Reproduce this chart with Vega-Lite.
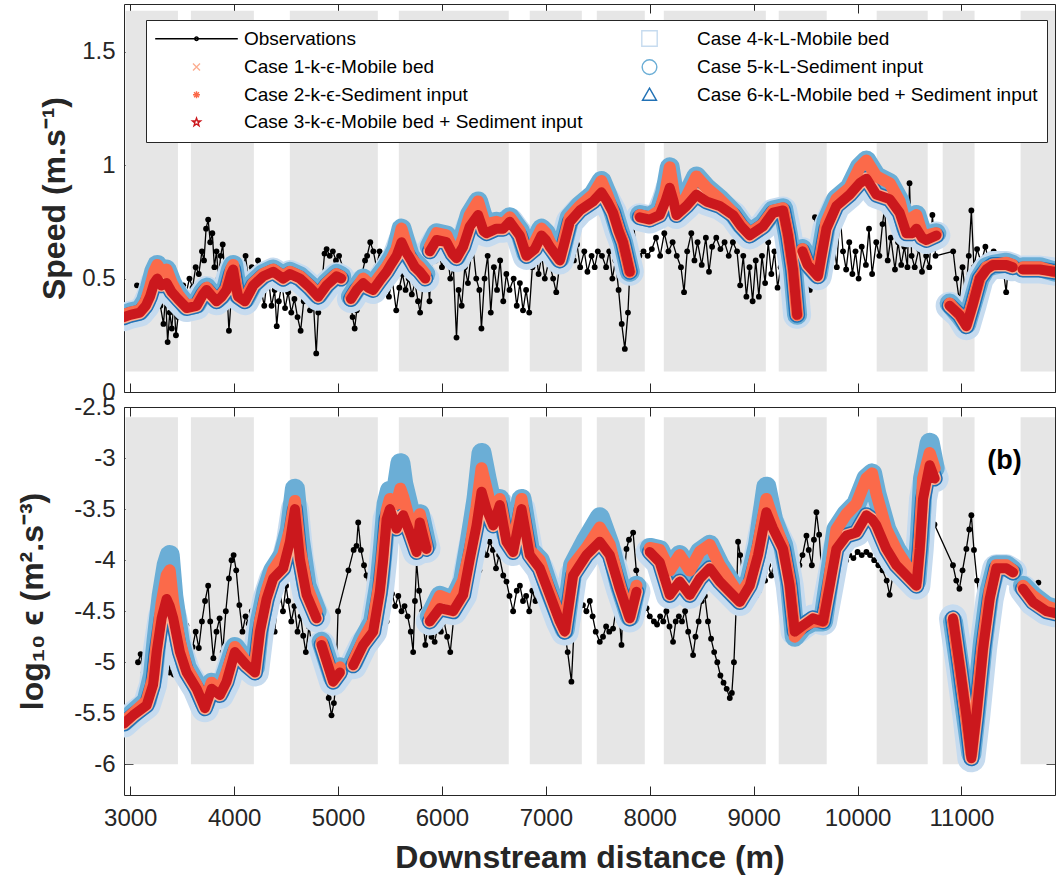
{
"$schema":"https://vega.github.io/schema/vega-lite/v6.json",
"background":"white",
"padding":{"left":16,"top":3,"right":5,"bottom":5},
"bounds":"flush",
"spacing":15,
"config":{
 "view":{"stroke":"#262626","strokeWidth":1},
 "axis":{"grid":false,"domain":false,"labelFont":"Liberation Sans","labelFontSize":24,"labelColor":"#262626","tickColor":"#262626","tickSize":-9,"tickWidth":1,"labelPadding":18,"titleFont":"Liberation Sans","titleFontSize":32,"titleFontWeight":"bold","titleColor":"#262626"}
},
"datasets":{
"speed":[
{"x0":2955,"x1":3459,"y0":0.09,"y1":1.68},{"x0":3584,"x1":4190,"y0":0.09,"y1":1.68},{"x0":4536,"x1":5383,"y0":0.09,"y1":1.68},{"x0":5585,"x1":6643,"y0":0.09,"y1":1.68},{"x0":6845,"x1":7346,"y0":0.09,"y1":1.68},{"x0":7490,"x1":7952,"y0":0.09,"y1":1.68},{"x0":8135,"x1":9117,"y0":0.09,"y1":1.68},{"x0":9241,"x1":9703,"y0":0.09,"y1":1.68},{"x0":10184,"x1":10675,"y0":0.09,"y1":1.68},{"x0":10819,"x1":11126,"y0":0.09,"y1":1.68},{"x0":11569,"x1":11900,"y0":0.09,"y1":1.68},
{"x":3065,"o":0.47},{"x":3120,"o":0.43},{"x":3200,"o":0.42},{"x":3230,"o":0.36},{"x":3260,"o":0.45},{"x":3290,"o":0.38},{"x":3320,"o":0.30},{"x":3340,"o":0.42},{"x":3360,"o":0.22},{"x":3380,"o":0.35},{"x":3400,"o":0.28},{"x":3420,"o":0.40},{"x":3440,"o":0.25},{"x":3460,"o":0.33},{"x":3480,"o":0.43},{"x":3510,"o":0.47},{"x":3540,"o":0.44},{"x":3570,"o":0.50},{"x":3600,"o":0.46},{"x":3630,"o":0.55},{"x":3660,"o":0.52},{"x":3690,"o":0.62},{"x":3710,"o":0.58},{"x":3730,"o":0.72},{"x":3750,"o":0.76},{"x":3770,"o":0.66},{"x":3790,"o":0.70},{"x":3810,"o":0.55},{"x":3830,"o":0.62},{"x":3850,"o":0.50},{"x":3870,"o":0.60},{"x":3890,"o":0.65},{"x":3910,"o":0.52},{"x":3930,"o":0.45},{"x":3950,"o":0.27},{"x":3970,"o":0.40},{"x":3990,"o":0.50},{"x":4010,"o":0.46},{"x":4040,"o":0.55},{"x":4070,"o":0.50},{"x":4110,"o":0.60},{"x":4140,"o":0.48},{"x":4170,"o":0.55},{"x":4200,"o":0.50},{"x":4230,"o":0.58},{"x":4260,"o":0.45},{"x":4290,"o":0.38},{"x":4310,"o":0.47},{"x":4330,"o":0.50},{"x":4360,"o":0.38},{"x":4390,"o":0.45},{"x":4410,"o":0.29},{"x":4430,"o":0.40},{"x":4460,"o":0.48},{"x":4490,"o":0.37},{"x":4520,"o":0.44},{"x":4550,"o":0.35},{"x":4580,"o":0.41},{"x":4610,"o":0.33},{"x":4640,"o":0.27},{"x":4670,"o":0.40},{"x":4700,"o":0.45},{"x":4730,"o":0.36},{"x":4760,"o":0.42},{"x":4790,"o":0.17},{"x":4810,"o":0.35},{"x":4840,"o":0.45},{"x":4870,"o":0.61},{"x":4890,"o":0.63},{"x":4920,"o":0.60},{"x":4950,"o":0.62},{"x":4980,"o":0.58},{"x":5010,"o":0.60},{"x":5080,"o":0.50},{"x":5120,"o":0.40},{"x":5140,"o":0.33},{"x":5160,"o":0.28},{"x":5180,"o":0.36},{"x":5200,"o":0.45},{"x":5230,"o":0.52},{"x":5260,"o":0.58},{"x":5280,"o":0.60},{"x":5310,"o":0.66},{"x":5340,"o":0.62},{"x":5370,"o":0.55},{"x":5400,"o":0.62},{"x":5430,"o":0.50},{"x":5460,"o":0.58},{"x":5490,"o":0.42},{"x":5520,"o":0.50},{"x":5560,"o":0.36},{"x":5590,"o":0.46},{"x":5620,"o":0.52},{"x":5650,"o":0.45},{"x":5680,"o":0.50},{"x":5710,"o":0.43},{"x":5740,"o":0.48},{"x":5770,"o":0.40},{"x":5790,"o":0.35},{"x":5820,"o":0.48},{"x":5850,"o":0.60},{"x":5880,"o":0.40},{"x":5910,"o":0.63},{"x":5940,"o":0.58},{"x":5970,"o":0.62},{"x":6000,"o":0.55},{"x":6030,"o":0.63},{"x":6060,"o":0.58},{"x":6080,"o":0.50},{"x":6110,"o":0.55},{"x":6140,"o":0.24},{"x":6160,"o":0.45},{"x":6190,"o":0.38},{"x":6220,"o":0.55},{"x":6250,"o":0.48},{"x":6280,"o":0.60},{"x":6300,"o":0.63},{"x":6330,"o":0.50},{"x":6360,"o":0.45},{"x":6380,"o":0.28},{"x":6410,"o":0.50},{"x":6440,"o":0.60},{"x":6470,"o":0.35},{"x":6500,"o":0.55},{"x":6530,"o":0.45},{"x":6560,"o":0.58},{"x":6590,"o":0.40},{"x":6620,"o":0.52},{"x":6650,"o":0.45},{"x":6690,"o":0.50},{"x":6720,"o":0.38},{"x":6750,"o":0.48},{"x":6780,"o":0.36},{"x":6810,"o":0.45},{"x":6840,"o":0.35},{"x":6870,"o":0.55},{"x":6900,"o":0.64},{"x":6930,"o":0.52},{"x":6960,"o":0.60},{"x":6990,"o":0.50},{"x":7030,"o":0.58},{"x":7070,"o":0.50},{"x":7100,"o":0.44},{"x":7130,"o":0.55},{"x":7170,"o":0.65},{"x":7200,"o":0.55},{"x":7240,"o":0.68},{"x":7270,"o":0.58},{"x":7300,"o":0.65},{"x":7330,"o":0.55},{"x":7370,"o":0.62},{"x":7400,"o":0.53},{"x":7440,"o":0.60},{"x":7470,"o":0.55},{"x":7500,"o":0.62},{"x":7540,"o":0.60},{"x":7580,"o":0.55},{"x":7610,"o":0.62},{"x":7640,"o":0.50},{"x":7670,"o":0.58},{"x":7700,"o":0.45},{"x":7730,"o":0.30},{"x":7760,"o":0.19},{"x":7790,"o":0.35},{"x":7810,"o":0.55},{"x":7840,"o":0.76},{"x":7870,"o":0.62},{"x":7900,"o":0.60},{"x":7940,"o":0.62},{"x":7980,"o":0.60},{"x":8020,"o":0.63},{"x":8060,"o":0.68},{"x":8100,"o":0.60},{"x":8140,"o":0.70},{"x":8180,"o":0.62},{"x":8220,"o":0.66},{"x":8260,"o":0.60},{"x":8300,"o":0.55},{"x":8330,"o":0.44},{"x":8360,"o":0.62},{"x":8400,"o":0.70},{"x":8430,"o":0.58},{"x":8460,"o":0.66},{"x":8500,"o":0.56},{"x":8540,"o":0.68},{"x":8570,"o":0.53},{"x":8600,"o":0.64},{"x":8640,"o":0.68},{"x":8680,"o":0.63},{"x":8720,"o":0.66},{"x":8760,"o":0.60},{"x":8800,"o":0.66},{"x":8840,"o":0.62},{"x":8870,"o":0.47},{"x":8900,"o":0.60},{"x":8930,"o":0.42},{"x":8960,"o":0.55},{"x":8990,"o":0.40},{"x":9020,"o":0.58},{"x":9050,"o":0.42},{"x":9080,"o":0.60},{"x":9110,"o":0.48},{"x":9140,"o":0.66},{"x":9170,"o":0.52},{"x":9200,"o":0.62},{"x":9230,"o":0.46},{"x":9260,"o":0.55},{"x":9300,"o":0.58},{"x":9340,"o":0.50},{"x":9380,"o":0.55},{"x":9420,"o":0.52},{"x":9450,"o":0.62},{"x":9480,"o":0.55},{"x":9510,"o":0.48},{"x":9540,"o":0.45},{"x":9570,"o":0.60},{"x":9590,"o":0.77},{"x":9610,"o":0.50},{"x":9640,"o":0.70},{"x":9670,"o":0.62},{"x":9700,"o":0.68},{"x":9730,"o":0.60},{"x":9760,"o":0.70},{"x":9800,"o":0.55},{"x":9830,"o":0.79},{"x":9860,"o":0.62},{"x":9890,"o":0.54},{"x":9920,"o":0.66},{"x":9950,"o":0.52},{"x":9980,"o":0.62},{"x":10010,"o":0.50},{"x":10040,"o":0.64},{"x":10080,"o":0.56},{"x":10110,"o":0.72},{"x":10140,"o":0.52},{"x":10180,"o":0.66},{"x":10210,"o":0.60},{"x":10240,"o":0.74},{"x":10260,"o":0.81},{"x":10290,"o":0.58},{"x":10320,"o":0.68},{"x":10360,"o":0.54},{"x":10390,"o":0.66},{"x":10420,"o":0.56},{"x":10450,"o":0.64},{"x":10480,"o":0.55},{"x":10500,"o":0.92},{"x":10520,"o":0.60},{"x":10550,"o":0.55},{"x":10590,"o":0.63},{"x":10620,"o":0.53},{"x":10660,"o":0.60},{"x":10690,"o":0.55},{"x":10720,"o":0.78},{"x":10750,"o":0.60},{"x":10920,"o":0.62},{"x":10950,"o":0.50},{"x":10980,"o":0.40},{"x":11010,"o":0.55},{"x":11040,"o":0.42},{"x":11070,"o":0.60},{"x":11095,"o":0.80},{"x":11120,"o":0.55},{"x":11150,"o":0.63},{"x":11190,"o":0.57},{"x":11230,"o":0.64},{"x":11270,"o":0.56},{"x":11310,"o":0.62},{"x":11350,"o":0.55},{"x":11390,"o":0.58},{"x":11430,"o":0.44},{"x":11450,"o":0.55},
{"x":2940,"g":1,"c1":0.33,"c2":0.34,"c3":0.33,"c4":0.33,"c5":0.34,"c6":0.33},
{"x":3000,"g":1,"c1":0.34,"c2":0.35,"c3":0.34,"c4":0.34,"c5":0.35,"c6":0.34},
{"x":3094,"g":1,"c1":0.35,"c2":0.36,"c3":0.35,"c4":0.35,"c5":0.36,"c6":0.35},
{"x":3150,"g":1,"c1":0.38,"c2":0.40,"c3":0.38,"c4":0.38,"c5":0.40,"c6":0.38},
{"x":3190,"g":1,"c1":0.42,"c2":0.46,"c3":0.42,"c4":0.42,"c5":0.46,"c6":0.42},
{"x":3230,"g":1,"c1":0.48,"c2":0.53,"c3":0.48,"c4":0.48,"c5":0.53,"c6":0.48},
{"x":3260,"g":1,"c1":0.50,"c2":0.56,"c3":0.50,"c4":0.50,"c5":0.56,"c6":0.50},
{"x":3300,"g":1,"c1":0.47,"c2":0.53,"c3":0.47,"c4":0.47,"c5":0.53,"c6":0.47},
{"x":3350,"g":1,"c1":0.48,"c2":0.54,"c3":0.48,"c4":0.48,"c5":0.54,"c6":0.48},
{"x":3400,"g":1,"c1":0.44,"c2":0.48,"c3":0.44,"c4":0.44,"c5":0.48,"c6":0.44},
{"x":3459,"g":1,"c1":0.41,"c2":0.43,"c3":0.41,"c4":0.41,"c5":0.43,"c6":0.41},
{"x":3543,"g":1,"c1":0.37,"c2":0.38,"c3":0.37,"c4":0.37,"c5":0.38,"c6":0.37},
{"x":3639,"g":1,"c1":0.38,"c2":0.39,"c3":0.38,"c4":0.38,"c5":0.39,"c6":0.38},
{"x":3700,"g":1,"c1":0.43,"c2":0.44,"c3":0.43,"c4":0.43,"c5":0.44,"c6":0.43},
{"x":3735,"g":1,"c1":0.45,"c2":0.46,"c3":0.45,"c4":0.45,"c5":0.46,"c6":0.45},
{"x":3790,"g":1,"c1":0.42,"c2":0.43,"c3":0.42,"c4":0.42,"c5":0.43,"c6":0.42},
{"x":3831,"g":1,"c1":0.40,"c2":0.41,"c3":0.40,"c4":0.40,"c5":0.41,"c6":0.40},
{"x":3880,"g":1,"c1":0.42,"c2":0.43,"c3":0.42,"c4":0.42,"c5":0.43,"c6":0.42},
{"x":3927,"g":1,"c1":0.45,"c2":0.46,"c3":0.45,"c4":0.45,"c5":0.46,"c6":0.45},
{"x":3970,"g":1,"c1":0.52,"c2":0.54,"c3":0.52,"c4":0.52,"c5":0.54,"c6":0.52},
{"x":3991,"g":1,"c1":0.54,"c2":0.56,"c3":0.54,"c4":0.54,"c5":0.56,"c6":0.54},
{"x":4020,"g":1,"c1":0.46,"c2":0.47,"c3":0.46,"c4":0.46,"c5":0.47,"c6":0.46},
{"x":4039,"g":1,"c1":0.42,"c2":0.43,"c3":0.42,"c4":0.42,"c5":0.43,"c6":0.42},
{"x":4104,"g":1,"c1":0.40,"c2":0.41,"c3":0.40,"c4":0.40,"c5":0.41,"c6":0.40},
{"x":4184,"g":1,"c1":0.47,"c2":0.48,"c3":0.47,"c4":0.47,"c5":0.48,"c6":0.47},
{"x":4280,"g":1,"c1":0.51,"c2":0.52,"c3":0.51,"c4":0.51,"c5":0.52,"c6":0.51},
{"x":4376,"g":1,"c1":0.53,"c2":0.54,"c3":0.53,"c4":0.53,"c5":0.54,"c6":0.53},
{"x":4472,"g":1,"c1":0.50,"c2":0.51,"c3":0.50,"c4":0.50,"c5":0.51,"c6":0.50},
{"x":4537,"g":1,"c1":0.52,"c2":0.53,"c3":0.52,"c4":0.52,"c5":0.53,"c6":0.52},
{"x":4633,"g":1,"c1":0.50,"c2":0.51,"c3":0.50,"c4":0.50,"c5":0.51,"c6":0.50},
{"x":4729,"g":1,"c1":0.46,"c2":0.47,"c3":0.46,"c4":0.46,"c5":0.47,"c6":0.46},
{"x":4809,"g":1,"c1":0.42,"c2":0.43,"c3":0.42,"c4":0.42,"c5":0.43,"c6":0.42},
{"x":4889,"g":1,"c1":0.47,"c2":0.48,"c3":0.47,"c4":0.47,"c5":0.48,"c6":0.47},
{"x":4986,"g":1,"c1":0.51,"c2":0.52,"c3":0.51,"c4":0.51,"c5":0.52,"c6":0.51},
{"x":5030,"g":1,"c1":0.50,"c2":0.51,"c3":0.50,"c4":0.50,"c5":0.51,"c6":0.50},
{"x":5124,"g":2,"c1":0.41,"c2":0.42,"c3":0.41,"c4":0.41,"c5":0.42,"c6":0.41},
{"x":5180,"g":2,"c1":0.45,"c2":0.46,"c3":0.45,"c4":0.45,"c5":0.46,"c6":0.45},
{"x":5242,"g":2,"c1":0.48,"c2":0.50,"c3":0.48,"c4":0.48,"c5":0.50,"c6":0.48},
{"x":5290,"g":2,"c1":0.46,"c2":0.48,"c3":0.46,"c4":0.46,"c5":0.48,"c6":0.46},
{"x":5338,"g":2,"c1":0.45,"c2":0.47,"c3":0.45,"c4":0.45,"c5":0.47,"c6":0.45},
{"x":5400,"g":2,"c1":0.49,"c2":0.51,"c3":0.49,"c4":0.49,"c5":0.51,"c6":0.49},
{"x":5467,"g":2,"c1":0.53,"c2":0.55,"c3":0.53,"c4":0.53,"c5":0.55,"c6":0.53},
{"x":5520,"g":2,"c1":0.57,"c2":0.59,"c3":0.57,"c4":0.57,"c5":0.59,"c6":0.57},
{"x":5563,"g":2,"c1":0.60,"c2":0.63,"c3":0.60,"c4":0.60,"c5":0.63,"c6":0.60},
{"x":5611,"g":2,"c1":0.66,"c2":0.72,"c3":0.66,"c4":0.66,"c5":0.72,"c6":0.66},
{"x":5650,"g":2,"c1":0.62,"c2":0.66,"c3":0.62,"c4":0.62,"c5":0.66,"c6":0.62},
{"x":5691,"g":2,"c1":0.59,"c2":0.60,"c3":0.59,"c4":0.59,"c5":0.60,"c6":0.59},
{"x":5740,"g":2,"c1":0.55,"c2":0.57,"c3":0.55,"c4":0.55,"c5":0.57,"c6":0.55},
{"x":5787,"g":2,"c1":0.53,"c2":0.55,"c3":0.53,"c4":0.53,"c5":0.55,"c6":0.53},
{"x":5840,"g":2,"c1":0.50,"c2":0.52,"c3":0.50,"c4":0.50,"c5":0.52,"c6":0.50},
{"x":5883,"g":3,"c1":0.62,"c2":0.64,"c3":0.62,"c4":0.62,"c5":0.64,"c6":0.62},
{"x":5948,"g":3,"c1":0.67,"c2":0.70,"c3":0.67,"c4":0.67,"c5":0.70,"c6":0.67},
{"x":6044,"g":3,"c1":0.66,"c2":0.69,"c3":0.66,"c4":0.66,"c5":0.69,"c6":0.66},
{"x":6100,"g":3,"c1":0.61,"c2":0.63,"c3":0.61,"c4":0.61,"c5":0.63,"c6":0.61},
{"x":6140,"g":3,"c1":0.59,"c2":0.60,"c3":0.59,"c4":0.59,"c5":0.60,"c6":0.59},
{"x":6204,"g":3,"c1":0.64,"c2":0.68,"c3":0.64,"c4":0.64,"c5":0.68,"c6":0.64},
{"x":6268,"g":3,"c1":0.73,"c2":0.78,"c3":0.73,"c4":0.73,"c5":0.78,"c6":0.73},
{"x":6348,"g":3,"c1":0.78,"c2":0.84,"c3":0.78,"c4":0.78,"c5":0.84,"c6":0.78},
{"x":6400,"g":3,"c1":0.71,"c2":0.76,"c3":0.71,"c4":0.71,"c5":0.76,"c6":0.71},
{"x":6429,"g":3,"c1":0.70,"c2":0.74,"c3":0.70,"c4":0.70,"c5":0.74,"c6":0.70},
{"x":6525,"g":3,"c1":0.72,"c2":0.75,"c3":0.72,"c4":0.72,"c5":0.75,"c6":0.72},
{"x":6590,"g":3,"c1":0.72,"c2":0.74,"c3":0.72,"c4":0.72,"c5":0.74,"c6":0.72},
{"x":6653,"g":3,"c1":0.75,"c2":0.77,"c3":0.75,"c4":0.75,"c5":0.77,"c6":0.75},
{"x":6700,"g":3,"c1":0.72,"c2":0.74,"c3":0.72,"c4":0.72,"c5":0.74,"c6":0.72},
{"x":6749,"g":3,"c1":0.69,"c2":0.71,"c3":0.69,"c4":0.69,"c5":0.71,"c6":0.69},
{"x":6814,"g":3,"c1":0.60,"c2":0.61,"c3":0.60,"c4":0.60,"c5":0.61,"c6":0.60},
{"x":6894,"g":3,"c1":0.63,"c2":0.66,"c3":0.63,"c4":0.63,"c5":0.66,"c6":0.63},
{"x":6958,"g":3,"c1":0.69,"c2":0.72,"c3":0.69,"c4":0.69,"c5":0.72,"c6":0.69},
{"x":7000,"g":3,"c1":0.67,"c2":0.70,"c3":0.67,"c4":0.67,"c5":0.70,"c6":0.67},
{"x":7038,"g":3,"c1":0.64,"c2":0.66,"c3":0.64,"c4":0.64,"c5":0.66,"c6":0.64},
{"x":7134,"g":3,"c1":0.58,"c2":0.59,"c3":0.58,"c4":0.58,"c5":0.59,"c6":0.58},
{"x":7180,"g":3,"c1":0.66,"c2":0.68,"c3":0.66,"c4":0.66,"c5":0.68,"c6":0.66},
{"x":7230,"g":3,"c1":0.75,"c2":0.77,"c3":0.75,"c4":0.75,"c5":0.77,"c6":0.75},
{"x":7327,"g":3,"c1":0.80,"c2":0.82,"c3":0.80,"c4":0.80,"c5":0.82,"c6":0.80},
{"x":7455,"g":3,"c1":0.84,"c2":0.87,"c3":0.84,"c4":0.84,"c5":0.87,"c6":0.84},
{"x":7535,"g":3,"c1":0.88,"c2":0.93,"c3":0.88,"c4":0.88,"c5":0.93,"c6":0.88},
{"x":7590,"g":3,"c1":0.84,"c2":0.87,"c3":0.84,"c4":0.84,"c5":0.87,"c6":0.84},
{"x":7647,"g":3,"c1":0.79,"c2":0.80,"c3":0.79,"c4":0.79,"c5":0.80,"c6":0.79},
{"x":7700,"g":3,"c1":0.71,"c2":0.72,"c3":0.71,"c4":0.71,"c5":0.72,"c6":0.71},
{"x":7743,"g":3,"c1":0.66,"c2":0.66,"c3":0.66,"c4":0.66,"c5":0.66,"c6":0.66},
{"x":7808,"g":3,"c1":0.53,"c2":0.53,"c3":0.53,"c4":0.53,"c5":0.53,"c6":0.53},
{"x":7904,"g":4,"c1":0.77,"c2":0.78,"c3":0.77,"c4":0.77,"c5":0.78,"c6":0.77},
{"x":8000,"g":4,"c1":0.76,"c2":0.77,"c3":0.76,"c4":0.76,"c5":0.77,"c6":0.76},
{"x":8096,"g":4,"c1":0.78,"c2":0.80,"c3":0.78,"c4":0.78,"c5":0.80,"c6":0.78},
{"x":8150,"g":4,"c1":0.84,"c2":0.88,"c3":0.84,"c4":0.84,"c5":0.88,"c6":0.84},
{"x":8192,"g":4,"c1":0.90,"c2":0.99,"c3":0.90,"c4":0.90,"c5":0.99,"c6":0.90},
{"x":8230,"g":4,"c1":0.84,"c2":0.88,"c3":0.84,"c4":0.84,"c5":0.88,"c6":0.84},
{"x":8257,"g":4,"c1":0.78,"c2":0.80,"c3":0.78,"c4":0.78,"c5":0.80,"c6":0.78},
{"x":8353,"g":4,"c1":0.82,"c2":0.86,"c3":0.82,"c4":0.82,"c5":0.86,"c6":0.82},
{"x":8449,"g":4,"c1":0.87,"c2":0.95,"c3":0.87,"c4":0.87,"c5":0.95,"c6":0.87},
{"x":8546,"g":4,"c1":0.84,"c2":0.90,"c3":0.84,"c4":0.84,"c5":0.90,"c6":0.84},
{"x":8673,"g":4,"c1":0.82,"c2":0.85,"c3":0.82,"c4":0.82,"c5":0.85,"c6":0.82},
{"x":8802,"g":4,"c1":0.78,"c2":0.79,"c3":0.78,"c4":0.78,"c5":0.79,"c6":0.78},
{"x":8880,"g":4,"c1":0.73,"c2":0.74,"c3":0.73,"c4":0.73,"c5":0.74,"c6":0.73},
{"x":8962,"g":4,"c1":0.69,"c2":0.70,"c3":0.69,"c4":0.69,"c5":0.70,"c6":0.69},
{"x":9090,"g":4,"c1":0.73,"c2":0.74,"c3":0.73,"c4":0.73,"c5":0.74,"c6":0.73},
{"x":9186,"g":4,"c1":0.79,"c2":0.80,"c3":0.79,"c4":0.79,"c5":0.80,"c6":0.79},
{"x":9283,"g":4,"c1":0.80,"c2":0.81,"c3":0.80,"c4":0.80,"c5":0.81,"c6":0.80},
{"x":9331,"g":4,"c1":0.69,"c2":0.69,"c3":0.69,"c4":0.69,"c5":0.69,"c6":0.69},
{"x":9379,"g":4,"c1":0.54,"c2":0.54,"c3":0.54,"c4":0.54,"c5":0.54,"c6":0.54},
{"x":9418,"g":4,"c1":0.34,"c2":0.34,"c3":0.34,"c4":0.34,"c5":0.34,"c6":0.34},
{"x":9470,"g":5,"c1":0.62,"c2":0.63,"c3":0.62,"c4":0.62,"c5":0.63,"c6":0.62},
{"x":9520,"g":5,"c1":0.56,"c2":0.57,"c3":0.56,"c4":0.56,"c5":0.57,"c6":0.56},
{"x":9617,"g":5,"c1":0.51,"c2":0.52,"c3":0.51,"c4":0.51,"c5":0.52,"c6":0.51},
{"x":9660,"g":5,"c1":0.62,"c2":0.64,"c3":0.62,"c4":0.62,"c5":0.64,"c6":0.62},
{"x":9700,"g":5,"c1":0.72,"c2":0.75,"c3":0.72,"c4":0.72,"c5":0.75,"c6":0.72},
{"x":9796,"g":5,"c1":0.82,"c2":0.85,"c3":0.82,"c4":0.82,"c5":0.85,"c6":0.82},
{"x":9924,"g":5,"c1":0.87,"c2":0.90,"c3":0.87,"c4":0.87,"c5":0.90,"c6":0.87},
{"x":10020,"g":5,"c1":0.92,"c2":0.99,"c3":0.92,"c4":0.92,"c5":0.99,"c6":0.92},
{"x":10085,"g":5,"c1":0.94,"c2":1.02,"c3":0.94,"c4":0.94,"c5":1.02,"c6":0.94},
{"x":10181,"g":5,"c1":0.87,"c2":0.95,"c3":0.87,"c4":0.87,"c5":0.95,"c6":0.87},
{"x":10309,"g":5,"c1":0.85,"c2":0.92,"c3":0.85,"c4":0.85,"c5":0.92,"c6":0.85},
{"x":10405,"g":5,"c1":0.79,"c2":0.84,"c3":0.79,"c4":0.79,"c5":0.84,"c6":0.79},
{"x":10470,"g":5,"c1":0.70,"c2":0.72,"c3":0.70,"c4":0.70,"c5":0.72,"c6":0.70},
{"x":10530,"g":5,"c1":0.70,"c2":0.77,"c3":0.70,"c4":0.70,"c5":0.77,"c6":0.70},
{"x":10566,"g":5,"c1":0.72,"c2":0.78,"c3":0.72,"c4":0.72,"c5":0.78,"c6":0.72},
{"x":10620,"g":5,"c1":0.68,"c2":0.70,"c3":0.68,"c4":0.68,"c5":0.70,"c6":0.68},
{"x":10662,"g":5,"c1":0.67,"c2":0.69,"c3":0.67,"c4":0.67,"c5":0.69,"c6":0.67},
{"x":10758,"g":5,"c1":0.69,"c2":0.70,"c3":0.69,"c4":0.69,"c5":0.70,"c6":0.69},
{"x":10886,"g":6,"c1":0.38,"c2":0.39,"c3":0.38,"c4":0.38,"c5":0.39,"c6":0.38},
{"x":10982,"g":6,"c1":0.34,"c2":0.34,"c3":0.34,"c4":0.34,"c5":0.34,"c6":0.34},
{"x":11047,"g":6,"c1":0.29,"c2":0.30,"c3":0.29,"c4":0.29,"c5":0.30,"c6":0.29},
{"x":11111,"g":6,"c1":0.39,"c2":0.40,"c3":0.39,"c4":0.39,"c5":0.40,"c6":0.39},
{"x":11175,"g":6,"c1":0.50,"c2":0.50,"c3":0.50,"c4":0.50,"c5":0.50,"c6":0.50},
{"x":11240,"g":6,"c1":0.54,"c2":0.55,"c3":0.54,"c4":0.54,"c5":0.55,"c6":0.54},
{"x":11303,"g":6,"c1":0.56,"c2":0.56,"c3":0.56,"c4":0.56,"c5":0.56,"c6":0.56},
{"x":11432,"g":6,"c1":0.56,"c2":0.57,"c3":0.56,"c4":0.56,"c5":0.57,"c6":0.56},
{"x":11493,"g":6,"c1":0.55,"c2":0.56,"c3":0.55,"c4":0.55,"c5":0.56,"c6":0.55},
{"x":11589,"g":7,"c1":0.54,"c2":0.55,"c3":0.54,"c4":0.54,"c5":0.55,"c6":0.54},
{"x":11753,"g":7,"c1":0.54,"c2":0.55,"c3":0.54,"c4":0.54,"c5":0.55,"c6":0.54},
{"x":11900,"g":7,"c1":0.53,"c2":0.53,"c3":0.53,"c4":0.53,"c5":0.53,"c6":0.53}
],
"eps":[
{"x0":2955,"x1":3459,"y0":-6,"y1":-2.6},{"x0":3584,"x1":4190,"y0":-6,"y1":-2.6},{"x0":4536,"x1":5383,"y0":-6,"y1":-2.6},{"x0":5585,"x1":6643,"y0":-6,"y1":-2.6},{"x0":6845,"x1":7346,"y0":-6,"y1":-2.6},{"x0":7490,"x1":7952,"y0":-6,"y1":-2.6},{"x0":8135,"x1":9117,"y0":-6,"y1":-2.6},{"x0":9241,"x1":9703,"y0":-6,"y1":-2.6},{"x0":10184,"x1":10675,"y0":-6,"y1":-2.6},{"x0":10819,"x1":11126,"y0":-6,"y1":-2.6},{"x0":11569,"x1":11900,"y0":-6,"y1":-2.6},
{"label":"(b)","x":11415,"y":-3.03},
{"x":3075,"o":-5.0},{"x":3100,"o":-4.92},{"x":3130,"o":-5.1},{"x":3160,"o":-5.05},{"x":3190,"o":-5.12},{"x":3220,"o":-5.0},{"x":3260,"o":-5.08},{"x":3300,"o":-4.55},{"x":3320,"o":-4.7},{"x":3340,"o":-4.5},{"x":3360,"o":-4.8},{"x":3380,"o":-5.1},{"x":3400,"o":-4.7},{"x":3420,"o":-5.12},{"x":3440,"o":-4.8},{"x":3470,"o":-4.9},{"x":3500,"o":-4.75},{"x":3540,"o":-4.64},{"x":3570,"o":-4.9},{"x":3600,"o":-4.85},{"x":3630,"o":-4.7},{"x":3660,"o":-4.86},{"x":3690,"o":-4.6},{"x":3720,"o":-4.4},{"x":3750,"o":-4.25},{"x":3770,"o":-4.6},{"x":3800,"o":-4.96},{"x":3830,"o":-4.7},{"x":3860,"o":-4.57},{"x":3890,"o":-4.9},{"x":3920,"o":-4.5},{"x":3950,"o":-4.18},{"x":3975,"o":-4.0},{"x":3995,"o":-3.95},{"x":4020,"o":-4.1},{"x":4050,"o":-4.44},{"x":4080,"o":-4.7},{"x":4110,"o":-4.55},{"x":4140,"o":-4.62},{"x":4170,"o":-4.5},{"x":4200,"o":-4.7},{"x":4230,"o":-4.55},{"x":4260,"o":-4.8},{"x":4290,"o":-4.9},{"x":4310,"o":-4.6},{"x":4330,"o":-4.85},{"x":4360,"o":-4.55},{"x":4390,"o":-4.7},{"x":4420,"o":-4.4},{"x":4440,"o":-4.31},{"x":4470,"o":-4.5},{"x":4500,"o":-4.25},{"x":4520,"o":-4.4},{"x":4550,"o":-4.6},{"x":4580,"o":-4.45},{"x":4610,"o":-4.7},{"x":4640,"o":-4.55},{"x":4665,"o":-4.74},{"x":4690,"o":-4.9},{"x":4720,"o":-4.65},{"x":4750,"o":-4.85},{"x":4780,"o":-4.8},{"x":4810,"o":-5.0},{"x":4840,"o":-4.95},{"x":4860,"o":-5.1},{"x":4890,"o":-5.25},{"x":4910,"o":-5.35},{"x":4937,"o":-5.52},{"x":4960,"o":-5.4},{"x":4980,"o":-5.2},{"x":5000,"o":-4.5},{"x":5100,"o":-4.1},{"x":5150,"o":-3.9},{"x":5178,"o":-3.86},{"x":5194,"o":-3.63},{"x":5220,"o":-3.9},{"x":5250,"o":-4.05},{"x":5274,"o":-4.15},{"x":5300,"o":-4.3},{"x":5330,"o":-4.35},{"x":5360,"o":-4.49},{"x":5400,"o":-4.45},{"x":5440,"o":-4.55},{"x":5467,"o":-4.6},{"x":5490,"o":-4.4},{"x":5520,"o":-4.33},{"x":5550,"o":-4.45},{"x":5580,"o":-4.35},{"x":5611,"o":-4.5},{"x":5640,"o":-4.45},{"x":5670,"o":-4.55},{"x":5700,"o":-4.7},{"x":5723,"o":-4.9},{"x":5740,"o":-4.4},{"x":5756,"o":-4.02},{"x":5780,"o":-4.3},{"x":5810,"o":-4.5},{"x":5840,"o":-4.83},{"x":5870,"o":-4.6},{"x":5900,"o":-4.75},{"x":5930,"o":-4.8},{"x":5960,"o":-4.65},{"x":5990,"o":-4.7},{"x":6020,"o":-4.6},{"x":6050,"o":-4.75},{"x":6080,"o":-4.9},{"x":6110,"o":-4.6},{"x":6140,"o":-4.45},{"x":6170,"o":-4.55},{"x":6200,"o":-4.3},{"x":6240,"o":-4.2},{"x":6270,"o":-4.3},{"x":6300,"o":-4.15},{"x":6330,"o":-4.0},{"x":6360,"o":-4.1},{"x":6397,"o":-3.92},{"x":6430,"o":-3.95},{"x":6460,"o":-3.82},{"x":6490,"o":-3.9},{"x":6520,"o":-4.08},{"x":6550,"o":-3.95},{"x":6590,"o":-4.15},{"x":6621,"o":-4.21},{"x":6650,"o":-4.35},{"x":6685,"o":-4.5},{"x":6720,"o":-4.3},{"x":6750,"o":-4.25},{"x":6780,"o":-4.4},{"x":6810,"o":-4.35},{"x":6840,"o":-4.5},{"x":6870,"o":-4.3},{"x":6900,"o":-4.4},{"x":6940,"o":-4.2},{"x":6970,"o":-4.3},{"x":7000,"o":-4.04},{"x":7030,"o":-4.2},{"x":7060,"o":-4.3},{"x":7100,"o":-4.45},{"x":7140,"o":-4.5},{"x":7180,"o":-4.7},{"x":7210,"o":-4.9},{"x":7246,"o":-5.19},{"x":7270,"o":-4.7},{"x":7300,"o":-4.5},{"x":7330,"o":-4.45},{"x":7357,"o":-4.44},{"x":7390,"o":-4.5},{"x":7423,"o":-4.4},{"x":7450,"o":-4.55},{"x":7480,"o":-4.7},{"x":7519,"o":-4.8},{"x":7550,"o":-4.75},{"x":7580,"o":-4.65},{"x":7610,"o":-4.7},{"x":7647,"o":-4.67},{"x":7680,"o":-4.45},{"x":7710,"o":-4.6},{"x":7728,"o":-4.83},{"x":7750,"o":-4.2},{"x":7776,"o":-3.89},{"x":7800,"o":-3.8},{"x":7840,"o":-3.73},{"x":7870,"o":-4.1},{"x":7900,"o":-4.28},{"x":7940,"o":-4.4},{"x":7969,"o":-4.47},{"x":8000,"o":-4.55},{"x":8040,"o":-4.6},{"x":8070,"o":-4.63},{"x":8100,"o":-4.55},{"x":8130,"o":-4.6},{"x":8160,"o":-4.5},{"x":8190,"o":-4.65},{"x":8224,"o":-4.8},{"x":8250,"o":-4.6},{"x":8280,"o":-4.55},{"x":8310,"o":-4.6},{"x":8340,"o":-4.5},{"x":8370,"o":-4.7},{"x":8417,"o":-4.93},{"x":8440,"o":-4.75},{"x":8470,"o":-4.6},{"x":8500,"o":-4.4},{"x":8530,"o":-4.35},{"x":8560,"o":-4.6},{"x":8590,"o":-4.77},{"x":8620,"o":-4.9},{"x":8650,"o":-5.0},{"x":8680,"o":-5.13},{"x":8710,"o":-5.2},{"x":8740,"o":-5.26},{"x":8770,"o":-5.35},{"x":8790,"o":-5.3},{"x":8810,"o":-5.0},{"x":8830,"o":-4.5},{"x":8850,"o":-3.82},{"x":8870,"o":-3.95},{"x":8900,"o":-4.2},{"x":8930,"o":-4.3},{"x":8960,"o":-4.28},{"x":8990,"o":-4.2},{"x":9020,"o":-4.35},{"x":9050,"o":-4.3},{"x":9080,"o":-4.1},{"x":9110,"o":-4.2},{"x":9140,"o":-4.05},{"x":9170,"o":-4.15},{"x":9200,"o":-4.0},{"x":9230,"o":-4.1},{"x":9251,"o":-3.99},{"x":9280,"o":-3.99},{"x":9310,"o":-4.05},{"x":9340,"o":-4.1},{"x":9370,"o":-4.15},{"x":9411,"o":-4.18},{"x":9440,"o":-4.05},{"x":9470,"o":-3.95},{"x":9508,"o":-3.76},{"x":9530,"o":-3.9},{"x":9560,"o":-4.05},{"x":9580,"o":-3.8},{"x":9604,"o":-3.53},{"x":9630,"o":-3.75},{"x":9660,"o":-4.2},{"x":9700,"o":-4.54},{"x":9730,"o":-4.4},{"x":9760,"o":-4.25},{"x":9800,"o":-4.15},{"x":9830,"o":-4.1},{"x":9860,"o":-4.08},{"x":9890,"o":-4.0},{"x":9920,"o":-3.95},{"x":9960,"o":-3.98},{"x":10000,"o":-3.92},{"x":10040,"o":-3.95},{"x":10085,"o":-3.92},{"x":10120,"o":-3.95},{"x":10160,"o":-4.0},{"x":10200,"o":-4.05},{"x":10240,"o":-4.1},{"x":10280,"o":-4.2},{"x":10309,"o":-4.34},{"x":10340,"o":-4.15},{"x":10380,"o":-4.0},{"x":10420,"o":-4.0},{"x":10460,"o":-4.1},{"x":10500,"o":-4.05},{"x":10540,"o":-4.2},{"x":10580,"o":-4.15},{"x":10620,"o":-4.0},{"x":10660,"o":-3.9},{"x":10700,"o":-3.7},{"x":10719,"o":-3.56},{"x":10740,"o":-3.65},{"x":10918,"o":-4.05},{"x":10950,"o":-4.2},{"x":10980,"o":-4.28},{"x":11010,"o":-4.1},{"x":11047,"o":-3.89},{"x":11075,"o":-3.7},{"x":11095,"o":-3.56},{"x":11120,"o":-3.9},{"x":11150,"o":-4.2},{"x":11190,"o":-4.5},{"x":11230,"o":-4.8},{"x":11271,"o":-5.03},{"x":11290,"o":-4.9},{"x":11320,"o":-4.5},{"x":11350,"o":-4.33},{"x":11399,"o":-4.16},{"x":11440,"o":-4.2},{"x":11500,"o":-4.18},{"x":11560,"o":-4.22},{"x":11620,"o":-4.2},{"x":11680,"o":-4.25},{"x":11740,"o":-4.22},
{"x":2940,"g":1,"c1":-5.60,"c2":-5.58,"c3":-5.60,"c4":-5.60,"c5":-5.58,"c6":-5.60},
{"x":3028,"g":1,"c1":-5.52,"c2":-5.50,"c3":-5.52,"c4":-5.52,"c5":-5.50,"c6":-5.52},
{"x":3158,"g":1,"c1":-5.42,"c2":-5.38,"c3":-5.42,"c4":-5.42,"c5":-5.38,"c6":-5.42},
{"x":3220,"g":1,"c1":-5.22,"c2":-5.15,"c3":-5.22,"c4":-5.22,"c5":-5.12,"c6":-5.22},
{"x":3254,"g":1,"c1":-4.90,"c2":-4.82,"c3":-4.90,"c4":-4.90,"c5":-4.78,"c6":-4.90},
{"x":3302,"g":1,"c1":-4.57,"c2":-4.42,"c3":-4.57,"c4":-4.57,"c5":-4.35,"c6":-4.57},
{"x":3350,"g":1,"c1":-4.38,"c2":-4.15,"c3":-4.38,"c4":-4.38,"c5":-4.05,"c6":-4.38},
{"x":3380,"g":1,"c1":-4.45,"c2":-4.10,"c3":-4.45,"c4":-4.45,"c5":-3.95,"c6":-4.45},
{"x":3414,"g":1,"c1":-4.57,"c2":-4.42,"c3":-4.57,"c4":-4.57,"c5":-4.35,"c6":-4.57},
{"x":3478,"g":1,"c1":-4.90,"c2":-4.80,"c3":-4.90,"c4":-4.90,"c5":-4.80,"c6":-4.90},
{"x":3543,"g":1,"c1":-5.10,"c2":-5.05,"c3":-5.10,"c4":-5.10,"c5":-5.05,"c6":-5.10},
{"x":3639,"g":1,"c1":-5.26,"c2":-5.22,"c3":-5.26,"c4":-5.26,"c5":-5.22,"c6":-5.26},
{"x":3719,"g":1,"c1":-5.45,"c2":-5.40,"c3":-5.45,"c4":-5.45,"c5":-5.40,"c6":-5.45},
{"x":3783,"g":1,"c1":-5.26,"c2":-5.20,"c3":-5.26,"c4":-5.26,"c5":-5.20,"c6":-5.26},
{"x":3863,"g":1,"c1":-5.32,"c2":-5.28,"c3":-5.32,"c4":-5.32,"c5":-5.28,"c6":-5.32},
{"x":3927,"g":1,"c1":-5.19,"c2":-5.10,"c3":-5.19,"c4":-5.19,"c5":-5.10,"c6":-5.19},
{"x":4007,"g":1,"c1":-4.90,"c2":-4.85,"c3":-4.90,"c4":-4.90,"c5":-4.85,"c6":-4.90},
{"x":4120,"g":1,"c1":-5.03,"c2":-5.00,"c3":-5.03,"c4":-5.03,"c5":-5.00,"c6":-5.03},
{"x":4200,"g":1,"c1":-5.10,"c2":-5.05,"c3":-5.10,"c4":-5.10,"c5":-5.05,"c6":-5.10},
{"x":4248,"g":1,"c1":-4.70,"c2":-4.60,"c3":-4.70,"c4":-4.70,"c5":-4.60,"c6":-4.70},
{"x":4312,"g":1,"c1":-4.38,"c2":-4.30,"c3":-4.38,"c4":-4.38,"c5":-4.30,"c6":-4.38},
{"x":4376,"g":1,"c1":-4.18,"c2":-4.10,"c3":-4.18,"c4":-4.18,"c5":-4.10,"c6":-4.18},
{"x":4472,"g":1,"c1":-4.08,"c2":-3.95,"c3":-4.08,"c4":-4.08,"c5":-3.95,"c6":-4.08},
{"x":4537,"g":1,"c1":-3.82,"c2":-3.70,"c3":-3.82,"c4":-3.82,"c5":-3.70,"c6":-3.82},
{"x":4585,"g":1,"c1":-3.50,"c2":-3.42,"c3":-3.50,"c4":-3.50,"c5":-3.30,"c6":-3.50},
{"x":4633,"g":1,"c1":-3.99,"c2":-3.88,"c3":-3.99,"c4":-3.99,"c5":-3.80,"c6":-3.99},
{"x":4697,"g":1,"c1":-4.34,"c2":-4.25,"c3":-4.34,"c4":-4.34,"c5":-4.25,"c6":-4.34},
{"x":4793,"g":1,"c1":-4.57,"c2":-4.50,"c3":-4.57,"c4":-4.57,"c5":-4.50,"c6":-4.57},
{"x":4841,"g":2,"c1":-4.83,"c2":-4.80,"c3":-4.83,"c4":-4.83,"c5":-4.80,"c6":-4.83},
{"x":4953,"g":2,"c1":-5.19,"c2":-5.15,"c3":-5.19,"c4":-5.19,"c5":-5.15,"c6":-5.19},
{"x":5018,"g":2,"c1":-5.10,"c2":-5.05,"c3":-5.10,"c4":-5.10,"c5":-5.05,"c6":-5.10},
{"x":5146,"g":3,"c1":-5.03,"c2":-5.00,"c3":-5.03,"c4":-5.03,"c5":-5.00,"c6":-5.03},
{"x":5242,"g":3,"c1":-4.83,"c2":-4.78,"c3":-4.83,"c4":-4.83,"c5":-4.78,"c6":-4.83},
{"x":5338,"g":3,"c1":-4.70,"c2":-4.60,"c3":-4.70,"c4":-4.70,"c5":-4.60,"c6":-4.70},
{"x":5402,"g":3,"c1":-4.31,"c2":-4.20,"c3":-4.31,"c4":-4.31,"c5":-4.20,"c6":-4.31},
{"x":5435,"g":3,"c1":-3.99,"c2":-3.85,"c3":-3.99,"c4":-3.99,"c5":-3.85,"c6":-3.99},
{"x":5467,"g":3,"c1":-3.60,"c2":-3.52,"c3":-3.60,"c4":-3.60,"c5":-3.45,"c6":-3.60},
{"x":5499,"g":3,"c1":-3.50,"c2":-3.40,"c3":-3.50,"c4":-3.50,"c5":-3.32,"c6":-3.50},
{"x":5563,"g":3,"c1":-3.69,"c2":-3.45,"c3":-3.69,"c4":-3.69,"c5":-3.30,"c6":-3.69},
{"x":5600,"g":3,"c1":-3.60,"c2":-3.30,"c3":-3.60,"c4":-3.60,"c5":-3.05,"c6":-3.60},
{"x":5627,"g":3,"c1":-3.56,"c2":-3.38,"c3":-3.56,"c4":-3.56,"c5":-3.25,"c6":-3.56},
{"x":5691,"g":3,"c1":-3.73,"c2":-3.62,"c3":-3.73,"c4":-3.73,"c5":-3.52,"c6":-3.73},
{"x":5756,"g":3,"c1":-3.92,"c2":-3.80,"c3":-3.92,"c4":-3.92,"c5":-3.80,"c6":-3.92},
{"x":5787,"g":3,"c1":-3.63,"c2":-3.55,"c3":-3.63,"c4":-3.63,"c5":-3.55,"c6":-3.63},
{"x":5851,"g":3,"c1":-3.89,"c2":-3.85,"c3":-3.89,"c4":-3.89,"c5":-3.85,"c6":-3.89},
{"x":5883,"g":4,"c1":-4.60,"c2":-4.55,"c3":-4.60,"c4":-4.60,"c5":-4.55,"c6":-4.60},
{"x":5980,"g":4,"c1":-4.47,"c2":-4.35,"c3":-4.47,"c4":-4.47,"c5":-4.35,"c6":-4.47},
{"x":6108,"g":4,"c1":-4.50,"c2":-4.40,"c3":-4.50,"c4":-4.50,"c5":-4.40,"c6":-4.50},
{"x":6204,"g":4,"c1":-4.34,"c2":-4.20,"c3":-4.34,"c4":-4.34,"c5":-4.20,"c6":-4.34},
{"x":6268,"g":4,"c1":-3.99,"c2":-3.90,"c3":-3.99,"c4":-3.99,"c5":-3.82,"c6":-3.99},
{"x":6333,"g":4,"c1":-3.66,"c2":-3.48,"c3":-3.66,"c4":-3.66,"c5":-3.40,"c6":-3.66},
{"x":6381,"g":4,"c1":-3.33,"c2":-3.10,"c3":-3.33,"c4":-3.33,"c5":-2.95,"c6":-3.33},
{"x":6429,"g":4,"c1":-3.50,"c2":-3.30,"c3":-3.50,"c4":-3.50,"c5":-3.20,"c6":-3.50},
{"x":6493,"g":4,"c1":-3.66,"c2":-3.58,"c3":-3.66,"c4":-3.66,"c5":-3.50,"c6":-3.66},
{"x":6557,"g":4,"c1":-3.46,"c2":-3.40,"c3":-3.46,"c4":-3.46,"c5":-3.40,"c6":-3.46},
{"x":6621,"g":4,"c1":-3.82,"c2":-3.75,"c3":-3.82,"c4":-3.82,"c5":-3.75,"c6":-3.82},
{"x":6685,"g":4,"c1":-3.92,"c2":-3.85,"c3":-3.92,"c4":-3.92,"c5":-3.85,"c6":-3.92},
{"x":6766,"g":4,"c1":-3.50,"c2":-3.40,"c3":-3.50,"c4":-3.50,"c5":-3.40,"c6":-3.50},
{"x":6845,"g":4,"c1":-3.95,"c2":-3.90,"c3":-3.95,"c4":-3.95,"c5":-3.90,"c6":-3.95},
{"x":6941,"g":4,"c1":-4.08,"c2":-4.00,"c3":-4.08,"c4":-4.08,"c5":-4.00,"c6":-4.08},
{"x":7038,"g":4,"c1":-4.34,"c2":-4.30,"c3":-4.34,"c4":-4.34,"c5":-4.30,"c6":-4.34},
{"x":7134,"g":4,"c1":-4.60,"c2":-4.55,"c3":-4.60,"c4":-4.60,"c5":-4.55,"c6":-4.60},
{"x":7182,"g":4,"c1":-4.70,"c2":-4.68,"c3":-4.70,"c4":-4.70,"c5":-4.68,"c6":-4.70},
{"x":7262,"g":4,"c1":-4.15,"c2":-4.05,"c3":-4.15,"c4":-4.15,"c5":-4.05,"c6":-4.15},
{"x":7391,"g":4,"c1":-3.95,"c2":-3.88,"c3":-3.95,"c4":-3.95,"c5":-3.80,"c6":-3.95},
{"x":7519,"g":4,"c1":-3.82,"c2":-3.68,"c3":-3.82,"c4":-3.82,"c5":-3.58,"c6":-3.82},
{"x":7615,"g":4,"c1":-3.95,"c2":-3.85,"c3":-3.95,"c4":-3.95,"c5":-3.85,"c6":-3.95},
{"x":7712,"g":4,"c1":-4.28,"c2":-4.25,"c3":-4.28,"c4":-4.28,"c5":-4.25,"c6":-4.28},
{"x":7808,"g":4,"c1":-4.57,"c2":-4.55,"c3":-4.57,"c4":-4.57,"c5":-4.55,"c6":-4.57},
{"x":7872,"g":4,"c1":-4.31,"c2":-4.25,"c3":-4.31,"c4":-4.31,"c5":-4.25,"c6":-4.31},
{"x":8000,"g":5,"c1":-3.92,"c2":-3.88,"c3":-3.92,"c4":-3.92,"c5":-3.88,"c6":-3.92},
{"x":8096,"g":5,"c1":-4.02,"c2":-3.90,"c3":-4.02,"c4":-4.02,"c5":-3.90,"c6":-4.02},
{"x":8192,"g":5,"c1":-4.34,"c2":-4.10,"c3":-4.34,"c4":-4.34,"c5":-4.10,"c6":-4.34},
{"x":8288,"g":5,"c1":-4.21,"c2":-3.95,"c3":-4.21,"c4":-4.21,"c5":-3.95,"c6":-4.21},
{"x":8385,"g":5,"c1":-4.34,"c2":-4.10,"c3":-4.34,"c4":-4.34,"c5":-4.10,"c6":-4.34},
{"x":8481,"g":5,"c1":-4.18,"c2":-3.92,"c3":-4.18,"c4":-4.18,"c5":-3.92,"c6":-4.18},
{"x":8577,"g":5,"c1":-4.08,"c2":-3.85,"c3":-4.08,"c4":-4.08,"c5":-3.85,"c6":-4.08},
{"x":8673,"g":5,"c1":-4.21,"c2":-4.05,"c3":-4.21,"c4":-4.21,"c5":-4.05,"c6":-4.21},
{"x":8769,"g":5,"c1":-4.31,"c2":-4.20,"c3":-4.31,"c4":-4.31,"c5":-4.20,"c6":-4.31},
{"x":8866,"g":5,"c1":-4.41,"c2":-4.35,"c3":-4.41,"c4":-4.41,"c5":-4.35,"c6":-4.41},
{"x":8962,"g":5,"c1":-4.25,"c2":-4.20,"c3":-4.25,"c4":-4.25,"c5":-4.20,"c6":-4.25},
{"x":9042,"g":5,"c1":-3.95,"c2":-3.85,"c3":-3.95,"c4":-3.95,"c5":-3.85,"c6":-3.95},
{"x":9122,"g":5,"c1":-3.53,"c2":-3.40,"c3":-3.53,"c4":-3.53,"c5":-3.28,"c6":-3.53},
{"x":9186,"g":5,"c1":-3.69,"c2":-3.60,"c3":-3.69,"c4":-3.69,"c5":-3.60,"c6":-3.69},
{"x":9283,"g":5,"c1":-3.89,"c2":-3.85,"c3":-3.89,"c4":-3.89,"c5":-3.85,"c6":-3.89},
{"x":9347,"g":5,"c1":-4.25,"c2":-4.20,"c3":-4.25,"c4":-4.25,"c5":-4.20,"c6":-4.25},
{"x":9395,"g":5,"c1":-4.70,"c2":-4.75,"c3":-4.70,"c4":-4.70,"c5":-4.75,"c6":-4.70},
{"x":9475,"g":5,"c1":-4.64,"c2":-4.65,"c3":-4.64,"c4":-4.64,"c5":-4.65,"c6":-4.64},
{"x":9571,"g":5,"c1":-4.57,"c2":-4.60,"c3":-4.57,"c4":-4.57,"c5":-4.60,"c6":-4.57},
{"x":9668,"g":5,"c1":-4.60,"c2":-4.60,"c3":-4.60,"c4":-4.60,"c5":-4.60,"c6":-4.60},
{"x":9732,"g":5,"c1":-4.25,"c2":-4.15,"c3":-4.25,"c4":-4.25,"c5":-4.15,"c6":-4.25},
{"x":9796,"g":5,"c1":-3.89,"c2":-3.70,"c3":-3.89,"c4":-3.89,"c5":-3.70,"c6":-3.89},
{"x":9892,"g":5,"c1":-3.76,"c2":-3.55,"c3":-3.76,"c4":-3.76,"c5":-3.55,"c6":-3.76},
{"x":9988,"g":5,"c1":-3.73,"c2":-3.45,"c3":-3.73,"c4":-3.73,"c5":-3.45,"c6":-3.73},
{"x":10085,"g":5,"c1":-3.56,"c2":-3.20,"c3":-3.56,"c4":-3.56,"c5":-3.20,"c6":-3.56},
{"x":10140,"g":5,"c1":-3.60,"c2":-3.15,"c3":-3.60,"c4":-3.60,"c5":-3.15,"c6":-3.60},
{"x":10181,"g":5,"c1":-3.66,"c2":-3.35,"c3":-3.66,"c4":-3.66,"c5":-3.35,"c6":-3.66},
{"x":10277,"g":5,"c1":-3.89,"c2":-3.70,"c3":-3.89,"c4":-3.89,"c5":-3.70,"c6":-3.89},
{"x":10374,"g":5,"c1":-4.05,"c2":-3.90,"c3":-4.05,"c4":-4.05,"c5":-3.90,"c6":-4.05},
{"x":10470,"g":5,"c1":-4.15,"c2":-4.05,"c3":-4.15,"c4":-4.15,"c5":-4.05,"c6":-4.15},
{"x":10566,"g":5,"c1":-4.25,"c2":-4.20,"c3":-4.25,"c4":-4.25,"c5":-4.20,"c6":-4.25},
{"x":10598,"g":5,"c1":-3.89,"c2":-3.80,"c3":-3.89,"c4":-3.89,"c5":-3.80,"c6":-3.89},
{"x":10630,"g":5,"c1":-3.40,"c2":-3.20,"c3":-3.40,"c4":-3.40,"c5":-3.20,"c6":-3.40},
{"x":10694,"g":5,"c1":-3.07,"c2":-2.95,"c3":-3.07,"c4":-3.07,"c5":-2.85,"c6":-3.07},
{"x":10742,"g":5,"c1":-3.20,"c2":-3.10,"c3":-3.20,"c4":-3.20,"c5":-3.10,"c6":-3.20},
{"x":10918,"g":6,"c1":-4.57,"c2":-4.60,"c3":-4.57,"c4":-4.57,"c5":-4.60,"c6":-4.57},
{"x":10982,"g":6,"c1":-5.03,"c2":-5.05,"c3":-5.03,"c4":-5.03,"c5":-5.05,"c6":-5.03},
{"x":11047,"g":6,"c1":-5.52,"c2":-5.55,"c3":-5.52,"c4":-5.52,"c5":-5.55,"c6":-5.52},
{"x":11095,"g":6,"c1":-5.94,"c2":-5.90,"c3":-5.94,"c4":-5.94,"c5":-5.90,"c6":-5.94},
{"x":11143,"g":6,"c1":-5.52,"c2":-5.45,"c3":-5.52,"c4":-5.52,"c5":-5.45,"c6":-5.52},
{"x":11207,"g":6,"c1":-4.87,"c2":-4.80,"c3":-4.87,"c4":-4.87,"c5":-4.80,"c6":-4.87},
{"x":11271,"g":6,"c1":-4.38,"c2":-4.30,"c3":-4.38,"c4":-4.38,"c5":-4.30,"c6":-4.38},
{"x":11335,"g":6,"c1":-4.08,"c2":-4.05,"c3":-4.08,"c4":-4.08,"c5":-4.05,"c6":-4.08},
{"x":11432,"g":6,"c1":-4.08,"c2":-4.05,"c3":-4.08,"c4":-4.08,"c5":-4.05,"c6":-4.08},
{"x":11496,"g":6,"c1":-4.12,"c2":-4.10,"c3":-4.12,"c4":-4.12,"c5":-4.10,"c6":-4.12},
{"x":11592,"g":7,"c1":-4.28,"c2":-4.25,"c3":-4.28,"c4":-4.28,"c5":-4.25,"c6":-4.28},
{"x":11688,"g":7,"c1":-4.41,"c2":-4.35,"c3":-4.41,"c4":-4.41,"c5":-4.35,"c6":-4.41},
{"x":11817,"g":7,"c1":-4.50,"c2":-4.45,"c3":-4.50,"c4":-4.50,"c5":-4.45,"c6":-4.50},
{"x":11900,"g":7,"c1":-4.52,"c2":-4.48,"c3":-4.52,"c4":-4.52,"c5":-4.48,"c6":-4.52}
]
},
"resolve":{"scale":{"color":"independent","shape":"independent"}},
"vconcat":[
{
 "width":931,"height":388,
 "data":{"name":"speed"},
 "encoding":{
  "x":{"field":"x","type":"quantitative","scale":{"domain":[2940,11900],"nice":false,"zero":false},"axis":null},
  "y":{"field":"y","type":"quantitative","scale":{"domain":[0,1.71],"nice":false,"zero":false},"axis":null}
 },
 "layer":[
  {"transform":[{"filter":"isValid(datum.x0)"}],"mark":{"type":"rect","color":"#e6e6e6"},
   "encoding":{
    "x":{"field":"x0","type":"quantitative","scale":{"domain":[2940,11900],"nice":false,"zero":false},"axis":{"orient":"top","labels":false,"title":null,"values":[3000,4000,5000,6000,7000,8000,9000,10000,11000]}},
    "x2":{"field":"x1"},
    "y":{"field":"y0","type":"quantitative","scale":{"domain":[0,1.71],"nice":false,"zero":false},"axis":{"orient":"right","labels":false,"title":null,"values":[0,0.5,1,1.5]}},
    "y2":{"field":"y1"}}},
  {"transform":[{"fold":["o","c1","c2","c3","c4","c5","c6"],"as":["s","y"]},{"filter":"isValid(datum.y)"}],
   "mark":{"type":"point","filled":false,"opacity":0},
   "encoding":{
    "color":{"field":"s","type":"nominal","scale":{"domain":["o","c1","c2","c3","c4","c5","c6"],"range":["#000000","#fcae91","#fb6a4a","#cb181d","#c6dbef","#6baed6","#2171b5"]},
     "legend":{"orient":"none","legendX":22,"legendY":16,"columns":2,"title":null,"labelFont":"Liberation Sans","labelFontSize":19,"labelColor":"#000000","labelLimit":600,"symbolSize":196,"symbolStrokeWidth":1.4,"symbolOpacity":1,"symbolOffset":32,"labelOffset":38,"rowPadding":7.6,"columnPadding":22,"padding":9,"strokeColor":"#262626","fillColor":"#ffffff",
      "labelExpr":"datum.value == 'o' ? 'Observations' : datum.value == 'c1' ? 'Case 1-k-ϵ-Mobile bed' : datum.value == 'c2' ? 'Case 2-k-ϵ-Sediment input' : datum.value == 'c3' ? 'Case 3-k-ϵ-Mobile bed + Sediment input' : datum.value == 'c4' ? 'Case 4-k-L-Mobile bed' : datum.value == 'c5' ? 'Case 5-k-L-Sediment input' : 'Case 6-k-L-Mobile bed + Sediment input'"}},
    "shape":{"field":"s","type":"nominal","scale":{"domain":["o","c1","c2","c3","c4","c5","c6"],"range":[
      "M-5.9,0H5.9M0.25,0A0.25,0.25 0 1,1 -0.25,0A0.25,0.25 0 1,1 0.25,0",
      "M-5.9,0M5.9,0M-0.5,-0.5L0.5,0.5M-0.5,0.5L0.5,-0.5",
      "M-5.9,0M5.9,0M-0.5,0H0.5M0,-0.5V0.5M-0.35,-0.35L0.35,0.35M-0.35,0.35L0.35,-0.35",
      "M-5.9,0M5.9,0M0,-0.6L0.141,-0.194L0.571,-0.185L0.228,0.074L0.353,0.485L0,0.24L-0.353,0.485L-0.228,0.074L-0.571,-0.185L-0.141,-0.194Z",
      "M-5.9,0M5.9,0M-1.1,-1.1H1.1V1.1H-1.1Z",
      "M-5.9,0M5.9,0M1.05,0A1.05,1.05 0 1,1 -1.05,0A1.05,1.05 0 1,1 1.05,0Z",
      "M-5.9,0M5.9,0M0,-0.95L1,0.8H-1Z"]},
     "legend":{"orient":"none","legendX":22,"legendY":16,"columns":2,"title":null,"labelFont":"Liberation Sans","labelFontSize":19,"labelColor":"#000000","labelLimit":600,"symbolSize":196,"symbolStrokeWidth":1.4,"symbolOpacity":1,"symbolOffset":32,"labelOffset":38,"rowPadding":7.6,"columnPadding":22,"padding":9,"strokeColor":"#262626","fillColor":"#ffffff",
      "labelExpr":"datum.value == 'o' ? 'Observations' : datum.value == 'c1' ? 'Case 1-k-ϵ-Mobile bed' : datum.value == 'c2' ? 'Case 2-k-ϵ-Sediment input' : datum.value == 'c3' ? 'Case 3-k-ϵ-Mobile bed + Sediment input' : datum.value == 'c4' ? 'Case 4-k-L-Mobile bed' : datum.value == 'c5' ? 'Case 5-k-L-Sediment input' : 'Case 6-k-L-Mobile bed + Sediment input'"}}}},
  {"transform":[{"fold":["o"],"as":["s","y"]},{"filter":"isValid(datum.y)"}],"mark":{"type":"line","color":"#000000","strokeWidth":1.3},
   "encoding":{
    "x":{"field":"x","type":"quantitative","scale":{"domain":[2940,11900],"nice":false,"zero":false},"axis":{"orient":"bottom","labels":false,"title":null,"values":[3000,4000,5000,6000,7000,8000,9000,10000,11000]}},
    "y":{"field":"y","type":"quantitative","scale":{"domain":[0,1.71],"nice":false,"zero":false},"axis":{"orient":"left","title":"Speed (m.s⁻¹)","titlePadding":10,"values":[0,0.5,1,1.5],"labelExpr":"'' + datum.value"}}}},
  {"transform":[{"fold":["o"],"as":["s","y"]},{"filter":"isValid(datum.y)"}],"mark":{"type":"circle","color":"#000000","size":34,"opacity":1}},
  {"transform":[{"fold":["c4"],"as":["s","y"]},{"filter":"isValid(datum.y)"}],"mark":{"type":"line","color":"#c6dbef","strokeWidth":28,"strokeCap":"round","strokeJoin":"round","clip":true},"encoding":{"detail":{"field":"g","type":"nominal"}}},
  {"transform":[{"fold":["c5"],"as":["s","y"]},{"filter":"isValid(datum.y)"}],"mark":{"type":"line","color":"#6baed6","strokeWidth":20,"strokeCap":"round","strokeJoin":"round","clip":true},"encoding":{"detail":{"field":"g","type":"nominal"}}},
  {"transform":[{"fold":["c6"],"as":["s","y"]},{"filter":"isValid(datum.y)"}],"mark":{"type":"line","color":"#2171b5","strokeWidth":16,"strokeCap":"round","strokeJoin":"round","clip":true},"encoding":{"detail":{"field":"g","type":"nominal"}}},
  {"transform":[{"fold":["c1"],"as":["s","y"]},{"filter":"isValid(datum.y)"}],"mark":{"type":"line","color":"#fcae91","strokeWidth":13,"strokeCap":"round","strokeJoin":"round","clip":true},"encoding":{"detail":{"field":"g","type":"nominal"}}},
  {"transform":[{"fold":["c2"],"as":["s","y"]},{"filter":"isValid(datum.y)"}],"mark":{"type":"line","color":"#fb6a4a","strokeWidth":12,"strokeCap":"round","strokeJoin":"round","clip":true},"encoding":{"detail":{"field":"g","type":"nominal"}}},
  {"transform":[{"fold":["c3"],"as":["s","y"]},{"filter":"isValid(datum.y)"}],"mark":{"type":"line","color":"#cb181d","strokeWidth":10,"strokeCap":"round","strokeJoin":"round","clip":true},"encoding":{"detail":{"field":"g","type":"nominal"}}}
 ],
 "resolve":{"axis":{"x":"independent","y":"independent"}}
},
{
 "width":931,"height":388,
 "data":{"name":"eps"},
 "encoding":{
  "x":{"field":"x","type":"quantitative","scale":{"domain":[2940,11900],"nice":false,"zero":false},"axis":null},
  "y":{"field":"y","type":"quantitative","scale":{"domain":[-6.3,-2.5],"nice":false,"zero":false},"axis":null}
 },
 "layer":[
  {"transform":[{"filter":"isValid(datum.x0)"}],"mark":{"type":"rect","color":"#e6e6e6"},
   "encoding":{
    "x":{"field":"x0","type":"quantitative","scale":{"domain":[2940,11900],"nice":false,"zero":false},"axis":{"orient":"top","labels":false,"title":null,"values":[3000,4000,5000,6000,7000,8000,9000,10000,11000]}},
    "x2":{"field":"x1"},
    "y":{"field":"y0","type":"quantitative","scale":{"domain":[-6.3,-2.5],"nice":false,"zero":false},"axis":{"orient":"right","labels":false,"title":null,"values":[-6,-5.5,-5,-4.5,-4,-3.5,-3,-2.5]}},
    "y2":{"field":"y1"}}},
  {"transform":[{"fold":["o"],"as":["s","y"]},{"filter":"isValid(datum.y)"}],"mark":{"type":"line","color":"#000000","strokeWidth":1.3},
   "encoding":{
    "x":{"field":"x","type":"quantitative","scale":{"domain":[2940,11900],"nice":false,"zero":false},"axis":{"orient":"bottom","title":"Downstream distance (m)","titlePadding":12,"values":[3000,4000,5000,6000,7000,8000,9000,10000,11000],"labelExpr":"'' + datum.value","labelPadding":20}},
    "y":{"field":"y","type":"quantitative","scale":{"domain":[-6.3,-2.5],"nice":false,"zero":false},"axis":{"orient":"left","title":"log₁₀ ϵ (m².s⁻³)","titlePadding":24,"values":[-6,-5.5,-5,-4.5,-4,-3.5,-3,-2.5],"labelExpr":"'' + datum.value"}}}},
  {"transform":[{"fold":["o"],"as":["s","y"]},{"filter":"isValid(datum.y)"}],"mark":{"type":"circle","color":"#000000","size":34,"opacity":1}},
  {"transform":[{"fold":["c4"],"as":["s","y"]},{"filter":"isValid(datum.y)"}],"mark":{"type":"line","color":"#c6dbef","strokeWidth":28,"strokeCap":"round","strokeJoin":"round","clip":true},"encoding":{"detail":{"field":"g","type":"nominal"}}},
  {"transform":[{"fold":["c5"],"as":["s","y"]},{"filter":"isValid(datum.y)"}],"mark":{"type":"line","color":"#6baed6","strokeWidth":20,"strokeCap":"round","strokeJoin":"round","clip":true},"encoding":{"detail":{"field":"g","type":"nominal"}}},
  {"transform":[{"fold":["c6"],"as":["s","y"]},{"filter":"isValid(datum.y)"}],"mark":{"type":"line","color":"#2171b5","strokeWidth":16,"strokeCap":"round","strokeJoin":"round","clip":true},"encoding":{"detail":{"field":"g","type":"nominal"}}},
  {"transform":[{"fold":["c1"],"as":["s","y"]},{"filter":"isValid(datum.y)"}],"mark":{"type":"line","color":"#fcae91","strokeWidth":13,"strokeCap":"round","strokeJoin":"round","clip":true},"encoding":{"detail":{"field":"g","type":"nominal"}}},
  {"transform":[{"fold":["c2"],"as":["s","y"]},{"filter":"isValid(datum.y)"}],"mark":{"type":"line","color":"#fb6a4a","strokeWidth":12,"strokeCap":"round","strokeJoin":"round","clip":true},"encoding":{"detail":{"field":"g","type":"nominal"}}},
  {"transform":[{"fold":["c3"],"as":["s","y"]},{"filter":"isValid(datum.y)"}],"mark":{"type":"line","color":"#cb181d","strokeWidth":10,"strokeCap":"round","strokeJoin":"round","clip":true},"encoding":{"detail":{"field":"g","type":"nominal"}}},
  {"transform":[{"filter":"isValid(datum.label)"}],"mark":{"type":"text","font":"Liberation Sans","fontSize":27,"fontWeight":"bold","color":"#000000"},
   "encoding":{"text":{"field":"label"}}}
 ],
 "resolve":{"axis":{"x":"independent","y":"independent"}}
}
]
}
